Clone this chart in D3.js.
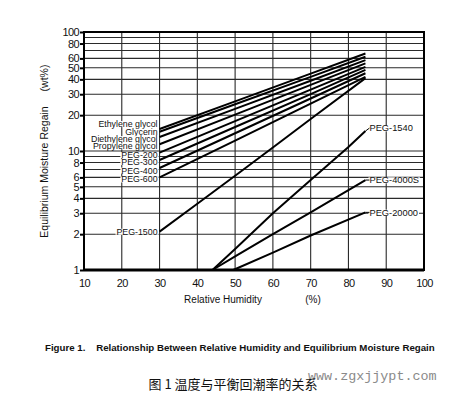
<!DOCTYPE html>
<html>
<head>
<meta charset="utf-8">
<script src="https://cdn.jsdelivr.net/npm/d3@7"></script>
<style>
  body { margin: 0; background: #fff; }
  svg { display: block; font-family: "Liberation Sans", Arial, sans-serif; }
  text { fill: #111; }
</style>
</head>
<body>
<svg id="chart" width="465" height="397"></svg>
<script>
// tick values
const rhTicks = [10, 20, 30, 40, 50, 60, 70, 80, 90, 100];
const regainTicks = [1, 2, 3, 4, 5, 6, 8, 10, 20, 30, 40, 50, 60, 80, 100];
const regainGrid = [1, 2, 3, 4, 5, 6, 7, 8, 9, 10, 20, 30, 40, 50, 60, 70, 80, 90, 100];

// humectant names, in label order
const seriesNames = [
    "Ethylene glycol", "Glycerin", "Diethylene glycol", "Propylene glycol",
    "PEG-200", "PEG-300", "PEG-400", "PEG-600",
    "PEG-1500", "PEG-1540", "PEG-4000S", "PEG-20000"
];

// relative humidity (%) for each curve
const seriesRH = [
    [30, 50, 70, 84.5],
    [30, 50, 70, 84.5],
    [30, 50, 70, 84.5],
    [30, 50, 70, 84.5],
    [30, 50, 70, 84.5],
    [30, 50, 70, 84.5],
    [30, 50, 70, 84.5],
    [30, 50, 70, 84.5],
    [30, 40, 50, 60, 70, 84.5],
    [44, 50, 60, 70, 80, 84.5],
    [44, 50, 60, 70, 84.5],
    [49.5, 60, 70, 84.5]
];

// equilibrium moisture regain (wt%) for each curve
const seriesRegain = [
    [15.3, 26.1, 44.7, 66],
    [14.5, 24.7, 42, 62],
    [13.1, 22.6, 38.9, 58],
    [11.4, 20.2, 35.9, 54.5],
    [9.7, 17.8, 32.8, 51],
    [8.4, 15.9, 30.1, 48],
    [7.2, 14.1, 27.6, 45],
    [6.0, 12.2, 25.0, 42],
    [2.1, 3.6, 6.2, 10.7, 18.6, 41],
    [1, 1.5, 3.0, 5.7, 10.8, 14.7],
    [1, 1.3, 2.0, 3.05, 5.7],
    [1, 1.4, 1.95, 3.05]
];

// label placement: which end of the curve, and small vertical nudge (px)
const labelSide = ["left", "left", "left", "left", "left", "left", "left", "left",
                   "left", "right", "right", "right"];
const labelNudge = [-5, 0, 2, 2, 2.5, 2, 2.5, 2, 0, -3, 0, 0];

const svg = d3.select("#chart");

const x = d3.scaleLinear().domain([10, 100]).range([84, 424]);
const y = d3.scaleLog().domain([1, 100]).range([270, 32]);

// grid
const grid = svg.append("g").attr("stroke", "#2a2a2a").attr("stroke-width", 1.1);
grid.selectAll(".hgrid")
    .data(regainGrid)
    .enter()
    .append("line")
    .attr("x1", x(10)).attr("x2", x(100))
    .attr("y1", d => y(d)).attr("y2", d => y(d));
grid.selectAll(".vgrid")
    .data(rhTicks)
    .enter()
    .append("line")
    .attr("y1", y(1)).attr("y2", y(100))
    .attr("x1", d => x(d)).attr("x2", d => x(d));

// curves
const line = d3.line()
    .x(d => x(d[0]))
    .y(d => y(d[1]));

const series = seriesNames.map((name, i) => ({
    name: name,
    points: seriesRH[i].map((rh, j) => [rh, seriesRegain[i][j]]),
    side: labelSide[i],
    nudge: labelNudge[i]
}));

svg.append("g")
    .attr("fill", "none")
    .attr("stroke", "#000")
    .attr("stroke-width", 2)
    .selectAll("path")
    .data(series)
    .enter()
    .append("path")
    .attr("d", d => line(d.points));

// labels with white backing so the grid breaks around them
const labels = svg.append("g");
series.forEach(s => {
    const p = s.side === "left" ? s.points[0] : s.points[s.points.length - 1];
    const lx = s.side === "left" ? x(p[0]) - 2 : x(p[0]) + 4;
    const ly = y(p[1]) + s.nudge;
    const g = labels.append("g");
    const t = g.append("text")
        .attr("x", lx)
        .attr("y", ly)
        .attr("dy", "0.35em")
        .attr("font-size", s.side === "left" ? 8.8 : 9.3)
        .attr("text-anchor", s.side === "left" ? "end" : "start")
        .text(s.name);
    const b = t.node().getBBox();
    g.insert("rect", "text")
        .attr("x", b.x - 1).attr("y", b.y + 2)
        .attr("width", b.width + 2).attr("height", b.height - 4)
        .attr("fill", "#fff");
    if (s.side === "right") {
        g.append("line")
            .attr("x1", x(p[0])).attr("x2", lx)
            .attr("y1", y(p[1])).attr("y2", ly)
            .attr("stroke", "#000").attr("stroke-width", 1);
    }
});

// frame
svg.append("rect")
    .attr("x", x(10)).attr("y", y(100))
    .attr("width", x(100) - x(10)).attr("height", y(1) - y(100))
    .attr("fill", "none").attr("stroke", "#000").attr("stroke-width", 2);
svg.append("line")
    .attr("x1", x(10)).attr("x2", x(100))
    .attr("y1", y(1)).attr("y2", y(1))
    .attr("stroke", "#000").attr("stroke-width", 3);

// axes
const yAxis = d3.axisLeft(y)
    .tickValues(regainTicks)
    .tickFormat(d3.format("d"))
    .tickSize(4)
    .tickPadding(1);
svg.append("g")
    .attr("transform", "translate(" + x(10) + ",0)")
    .call(yAxis)
    .attr("font-family", null)
    .attr("font-size", 11)
    .call(g => g.select(".domain").remove())
    .call(g => g.selectAll(".tick line").attr("stroke-width", 2))
    .call(g => g.selectAll("text").attr("letter-spacing", -0.6));

const xAxis = d3.axisBottom(x)
    .tickValues(rhTicks)
    .tickFormat(d3.format("d"))
    .tickSize(0)
    .tickPadding(9);
svg.append("g")
    .attr("transform", "translate(0," + y(1) + ")")
    .call(xAxis)
    .attr("font-family", null)
    .attr("font-size", 11)
    .call(g => g.select(".domain").remove())
    .call(g => g.selectAll("text").attr("letter-spacing", -0.6));

// axis titles
svg.append("text")
    .attr("x", 223).attr("y", 303)
    .attr("text-anchor", "middle")
    .attr("font-size", 10)
    .text("Relative Humidity");
svg.append("text")
    .attr("x", 313).attr("y", 303)
    .attr("text-anchor", "middle")
    .attr("font-size", 10)
    .text("(%)");

svg.append("text")
    .attr("transform", "translate(48,172) rotate(-90)")
    .attr("text-anchor", "middle")
    .attr("font-size", 10.5)
    .text("Equilibrium Moisture Regain");
svg.append("text")
    .attr("transform", "translate(48,78) rotate(-90)")
    .attr("text-anchor", "middle")
    .attr("font-size", 10.5)
    .text("(wt%)");

// captions
svg.append("text")
    .attr("x", 45).attr("y", 351)
    .attr("font-size", 9.7)
    .attr("font-weight", "bold")
    .attr("xml:space", "preserve")
    .text("Figure 1.    Relationship Between Relative Humidity and Equilibrium Moisture Regain");

svg.append("text")
    .attr("x", 308).attr("y", 380)
    .attr("font-family", "'Liberation Mono', 'DejaVu Sans Mono', monospace")
    .attr("font-size", 13.4)
    .style("fill", "#8a8a8a")
    .text("www.zgxjjypt.com");

svg.append("text")
    .attr("x", 233).attr("y", 389)
    .attr("text-anchor", "middle")
    .attr("font-family", "'Noto Sans CJK SC', sans-serif")
    .attr("font-size", 13)
    .text("图 1 温度与平衡回潮率的关系");
</script>
</body>
</html>
